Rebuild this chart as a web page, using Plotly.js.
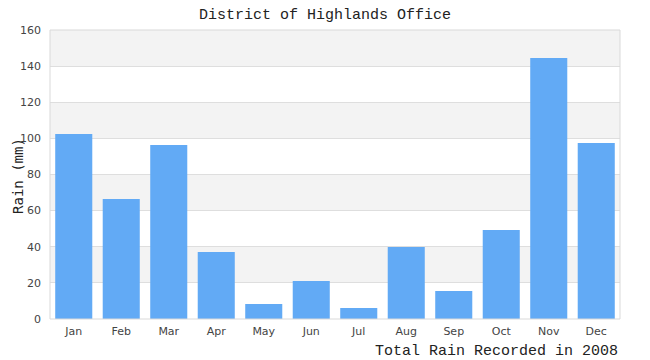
<!DOCTYPE html>
<html><head><meta charset="utf-8">
<script src="https://cdn.plot.ly/plotly-3.0.1.min.js"></script>
<style>html,body{margin:0;padding:0;background:#fff}#chart{width:650px;height:360px}</style>
</head><body><div id="chart"></div>
<script>
const months = ["Jan","Feb","Mar","Apr","May","Jun","Jul","Aug","Sep","Oct","Nov","Dec"];
const rain = [102.4, 66.4, 96.3, 37.1, 8.3, 21.0, 6.1, 39.9, 15.5, 49.3, 144.5, 97.4];
const yTicks = [0, 20, 40, 60, 80, 100, 120, 140, 160];

const shapes = [];
for (let i = 0; i < yTicks.length - 1; i++) {
  if (i % 2 === 1) {
    shapes.push({type:'rect', xref:'paper', yref:'y', x0:0, x1:1, y0:yTicks[i], y1:yTicks[i+1],
      fillcolor:'#f3f3f3', line:{width:0}, layer:'below'});
  }
}
shapes.push({type:'rect', xref:'paper', yref:'paper', x0:0, x1:1, y0:0, y1:1,
  line:{color:'#d9d9d9', width:1}, fillcolor:'rgba(0,0,0,0)', layer:'above'});

const monoFont = 'Liberation Mono, DejaVu Sans Mono, monospace';
const data = [{type:'bar', x: months, y: rain, marker:{color:'#62aaf5'}, hoverinfo:'x+y'}];
const layout = {
  width:650, height:360,
  margin:{l:50, r:30, t:30, b:41},
  paper_bgcolor:'#fff', plot_bgcolor:'#fff',
  bargap:0.22,
  title:{text:'District of Highlands Office', font:{family:monoFont, size:15, color:'#222'}, x:0.5, xanchor:'center', y:0.962, yanchor:'middle'},
  xaxis:{showgrid:false, zeroline:false, showline:false, tickfont:{family:'DejaVu Sans, sans-serif', size:11, color:'#444'}, ticklabelstandoff:4},
  yaxis:{range:[0,160], tickvals:yTicks, showgrid:true, gridcolor:'#dedede', zeroline:false, showline:false,
    tickfont:{family:'DejaVu Sans, sans-serif', size:11, color:'#444'}, ticklabelstandoff:8},
  shapes: shapes,
  annotations:[
    {text:'Total Rain Recorded in 2008', xref:'paper', yref:'paper', x:1, xanchor:'right', y:-0.112, yanchor:'middle', showarrow:false,
      font:{family:monoFont, size:15, color:'#222'}},
    {text:'Rain (mm)', xref:'paper', yref:'paper', x:-0.0561, xanchor:'center', y:0.495, yanchor:'middle', textangle:-90, showarrow:false,
      font:{family:'DejaVu Sans Mono, monospace', size:14, color:'#222'}}
  ],
  showlegend:false
};
Plotly.newPlot('chart', data, layout, {displayModeBar:false, staticPlot:true});
</script></body></html>
